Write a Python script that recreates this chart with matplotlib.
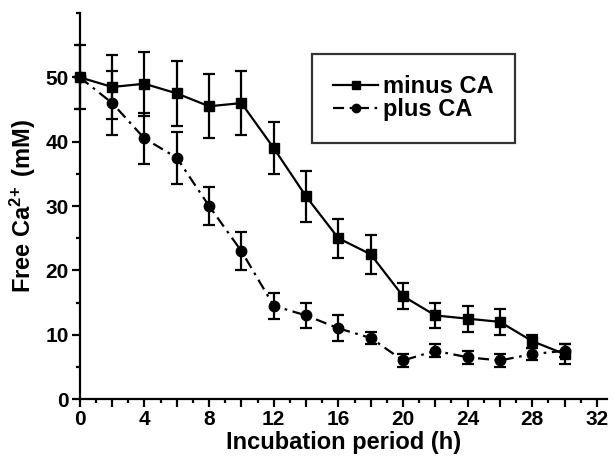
import matplotlib
matplotlib.use('Agg')
import matplotlib.pyplot as plt
from matplotlib.ticker import MultipleLocator, FuncFormatter

plt.rcParams['font.family'] = ['Liberation Sans', 'DejaVu Sans']
plt.rcParams['font.weight'] = 'bold'
plt.rcParams['mathtext.fontset'] = 'custom'
plt.rcParams['mathtext.rm'] = 'Liberation Sans:bold'
plt.rcParams['mathtext.bf'] = 'Liberation Sans:bold'
plt.rcParams['mathtext.default'] = 'bf'

# data
hours = [0, 2, 4, 6, 8, 10, 12, 14, 16, 18, 20, 22, 24, 26, 28, 30]
minus_ca = [50, 48.5, 49, 47.5, 45.5, 46, 39, 31.5, 25, 22.5, 16, 13, 12.5, 12, 9, 7]
minus_err = [5, 5, 5, 5, 5, 5, 4, 4, 3, 3, 2, 2, 2, 2, 1, 1.5]
plus_ca = [50, 46, 40.5, 37.5, 30, 23, 14.5, 13, 11, 9.5, 6, 7.5, 6.5, 6, 7, 7.5]
plus_err = [0, 5, 4, 4, 3, 3, 2, 2, 2, 1, 1, 1, 1, 1, 1, 1]

fig = plt.figure(figsize=(6.14, 4.63), dpi=100)
ax = fig.add_axes([0.130, 0.138, 0.858, 0.834])

lw = 1.6
ax.errorbar(hours, minus_ca, yerr=minus_err, fmt='none', ecolor='black',
            capsize=4, elinewidth=lw, capthick=lw, clip_on=False, zorder=2)
ax.errorbar(hours, plus_ca, yerr=plus_err, fmt='none', ecolor='black',
            capsize=4, elinewidth=lw, capthick=lw, clip_on=False, zorder=2)
ax.plot(hours, minus_ca, color='black', lw=lw, marker='s', ms=7.5,
        label='minus CA', clip_on=False, zorder=3)
ax.plot(hours, plus_ca, color='black', lw=lw, ls=(0, (5, 2.5, 1.2, 2.5)), marker='o', ms=7.5,
        label='plus CA', clip_on=False, zorder=3)

ax.set_xlim(0, 32.6)
ax.set_ylim(0, 60)
ax.spines['top'].set_visible(False)
ax.spines['right'].set_visible(False)
for s in ['left', 'bottom']:
    ax.spines[s].set_linewidth(1.6)

ax.xaxis.set_major_locator(MultipleLocator(2))
ax.xaxis.set_minor_locator(MultipleLocator(1))
ax.xaxis.set_major_formatter(FuncFormatter(lambda v, p: '%d' % v if int(round(v)) % 4 == 0 else ''))
ax.yaxis.set_major_locator(MultipleLocator(10))
ax.yaxis.set_minor_locator(MultipleLocator(5))
ax.set_yticks([0, 10, 20, 30, 40, 50])
ax.tick_params(which='major', length=6, width=1.6, labelsize=15, pad=2)
ax.tick_params(which='minor', length=3, width=1.6)

ax.set_xlabel('Incubation period (h)', fontsize=17, fontweight='bold', labelpad=1)
ax.set_ylabel(r'Free Ca$^{2\!+}$ (mM)', fontsize=17, fontweight='bold', labelpad=5)

leg = ax.legend(loc='upper left', bbox_to_anchor=(312 / 614, 1 - 54 / 463),
                bbox_transform=fig.transFigure, borderaxespad=0, fontsize=17,
                frameon=True, fancybox=False, handlelength=1.9, handletextpad=0.2,
                borderpad=0.9, labelspacing=0.0, markerscale=0.8)
leg.get_frame().set_edgecolor('black')
leg.get_frame().set_linewidth(1.6)

fig.savefig('out.png', dpi=100)
